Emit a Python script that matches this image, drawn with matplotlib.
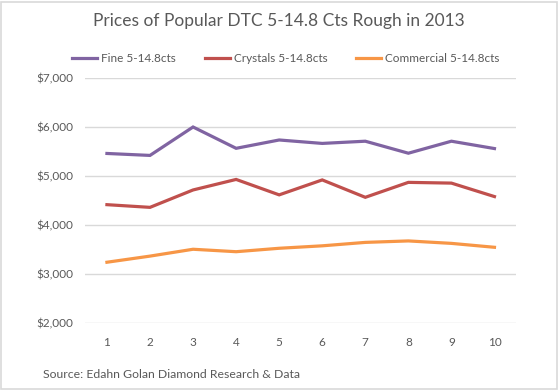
import matplotlib
matplotlib.use("Agg")
import matplotlib.pyplot as plt
from matplotlib.patches import Rectangle
from matplotlib.ticker import FuncFormatter

categories = [1, 2, 3, 4, 5, 6, 7, 8, 9, 10]
fine = [5460, 5420, 6000, 5565, 5735, 5665, 5710, 5465, 5710, 5560]
crystals = [4415, 4360, 4715, 4930, 4615, 4920, 4565, 4870, 4855, 4580]
commercial = [3240, 3365, 3505, 3455, 3525, 3575, 3645, 3675, 3625, 3545]
series_names = ["Fine 5-14.8cts", "Crystals 5-14.8cts", "Commercial 5-14.8cts"]
colors = ["#8064A2", "#C0504D", "#F79646"]
title = "Prices of Popular DTC 5-14.8 Cts Rough in 2013"
source = "Source: Edahn Golan Diamond Research & Data"

plt.rcParams['font.family'] = ['Lato', 'DejaVu Sans']

fig = plt.figure(figsize=(5.58, 3.9), dpi=100)
ax = fig.add_axes([85.4/558, 67/390, (516-85.4)/558, 245/390])

x = list(range(len(categories)))
for vals, c, n in zip([fine, crystals, commercial], colors, series_names):
    ax.plot(x, vals, color=c, lw=2.3, label=n, solid_joinstyle='miter')

ax.set_xlim(-0.5, len(categories) - 0.5)
ax.set_ylim(2000, 7000)
ax.set_yticks([2000, 3000, 4000, 5000, 6000, 7000])
ax.yaxis.set_major_formatter(FuncFormatter(lambda v, p: "${:,.0f}".format(v)))
ax.set_xticks(x)
ax.set_xticklabels([str(c) for c in categories])
ax.grid(axis='y', color='#D9D9D9', lw=1)
ax.set_axisbelow(True)
for s in ax.spines.values():
    s.set_visible(False)
ax.tick_params(axis='both', length=0, labelsize=8.5, colors='#595959')
ax.tick_params(axis='y', pad=9)
ax.tick_params(axis='x', pad=10)

fig.text(0.5, 1 - 21/390, title, ha='center', va='center', fontsize=12.5, color='#595959')

leg_x = [72, 205, 356]
for lx, c, n in zip(leg_x, colors, series_names):
    fig.add_artist(plt.Line2D([lx/558, (lx+25)/558], [1-58/390]*2, color=c, lw=2.3))
    fig.text((lx+29)/558, 1-58/390, n, ha='left', va='center', fontsize=8.5, color='#595959')

fig.text(43/558, 1 - 374/390, source, ha='left', va='center', fontsize=8.8, color='#595959')

fig.add_artist(Rectangle((0.5/558, 1.5/390), 556/558, 387/390, transform=fig.transFigure,
                         fill=False, edgecolor='#D9D9D9', lw=1.2))

fig.savefig("out.png", dpi=100, facecolor='white')
